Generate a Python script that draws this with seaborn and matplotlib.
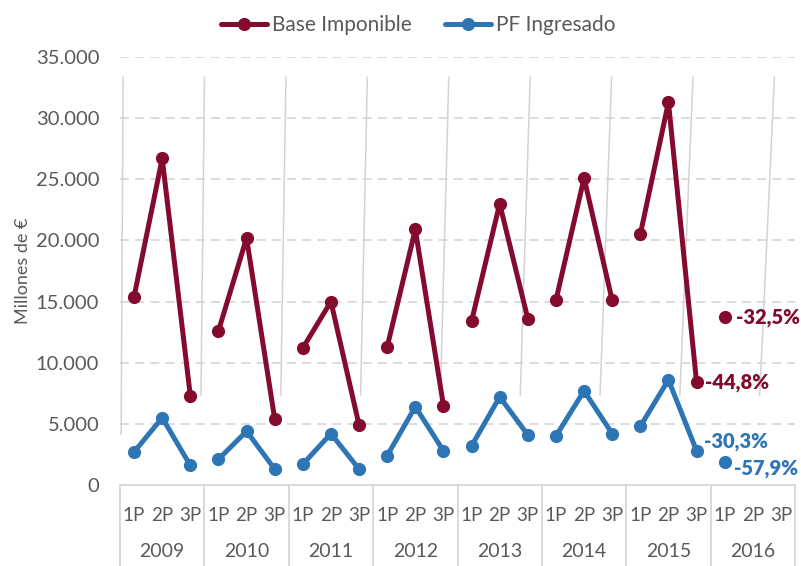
import numpy as np
import pandas as pd
import matplotlib
matplotlib.use("Agg")
import matplotlib.pyplot as plt
from matplotlib.lines import Line2D
from matplotlib.transforms import blended_transform_factory
import seaborn as sns

# --- data -------------------------------------------------------------
years = ["2009", "2010", "2011", "2012", "2013", "2014", "2015", "2016"]
periods = ["1P", "2P", "3P"]
series_names = ["Base Imponible", "PF Ingresado"]

base_imponible = [15400, 26700, 7300,
                  12600, 20200, 5400,
                  11200, 15000, 4900,
                  11300, 20900, 6500,
                  13400, 23000, 13600,
                  15100, 25100, 15100,
                  20500, 31300, 8400,
                  13700, np.nan, np.nan]
pf_ingresado = [2700, 5500, 1600,
                2100, 4400, 1300,
                1700, 4200, 1300,
                2400, 6400, 2800,
                3200, 7200, 4100,
                4000, 7700, 4200,
                4800, 8600, 2800,
                1900, np.nan, np.nan]

# variation labels: (series, year, period, text)
variations = [("Base Imponible", "2016", "1P", "-32,5%"),
              ("Base Imponible", "2015", "3P", "-44,8%"),
              ("PF Ingresado", "2015", "3P", "-30,3%"),
              ("PF Ingresado", "2016", "1P", "-57,9%")]

# --- long table ---------------------------------------------------------
rows = []
for i, (b, p) in enumerate(zip(base_imponible, pf_ingresado)):
    y, per = years[i // 3], periods[i % 3]
    rows.append((y, per, i, series_names[0], b))
    rows.append((y, per, i, series_names[1], p))
df = pd.DataFrame(rows, columns=["year", "period", "pos", "serie", "value"]).dropna()

colors = {"Base Imponible": "#840B2E", "PF Ingresado": "#2E75B6"}
grid_grey = "#D9D9D9"
text_grey = "#595959"

sns.set_theme(style="white")
plt.rcParams["font.family"] = ["Lato", "DejaVu Sans"]

fig = plt.figure(figsize=(8.01, 5.66), dpi=100)
ax = fig.add_axes([120 / 801, 81 / 566, 675 / 801, 428 / 566])

n = len(years) * len(periods)
ax.set_xlim(-0.5, n - 0.5)
ax.set_ylim(0, 35000)

# thin grey separators drawn behind the series
sep_k = np.arange(len(years) + 1)
sep_top = -0.39 + 0.965 * 3 * sep_k
sep_bot = -0.46 + 0.946 * 3 * sep_k
for k, (xt, xb) in enumerate(zip(sep_top, sep_bot)):
    yb = 4100 if k == 0 else 7300
    ax.plot([xt, xb], [33400, yb], color="#D3D3D3", lw=1.1, zorder=1,
            solid_capstyle="butt")

sns.lineplot(data=df, x="pos", y="value", hue="serie", units="year",
             estimator=None, palette=colors, marker="o", markersize=9.5,
             markeredgewidth=0, linewidth=3.6, legend=False, ax=ax, zorder=3)

# variation annotations
offsets = {"-32,5%": (8, 0), "-44,8%": (6, 0), "-30,3%": (5, 7), "-57,9%": (7, -5)}
for serie, yr, per, txt in variations:
    idx = years.index(yr) * 3 + periods.index(per)
    val = base_imponible[idx] if serie == "Base Imponible" else pf_ingresado[idx]
    ax.annotate(txt, (idx, val), xytext=offsets[txt], textcoords="offset points",
                ha="left", va="center", color=colors[serie], fontsize=14.5,
                fontweight="heavy", zorder=4)

# axes styling
for s in ax.spines.values():
    s.set_visible(False)
ax.yaxis.grid(True, color=grid_grey, linestyle=(0, (5, 3.4)), linewidth=1.3)
ax.set_axisbelow(True)
yt = np.arange(0, 35001, 5000)
ax.set_yticks(yt)
ax.set_yticklabels([f"{v:,.0f}".replace(",", ".") for v in yt])
ax.tick_params(axis="y", length=0, pad=15, labelsize=14.5, labelcolor=text_grey)
ax.set_ylabel("Millones de €", fontsize=13, color=text_grey, labelpad=3)

ax.set_xticks(range(n))
ax.set_xticklabels(periods * len(years))
ax.tick_params(axis="x", length=0, pad=16, labelsize=13.5, labelcolor=text_grey)
ax.set_xlabel("")

# category boxes under the axis
trans = blended_transform_factory(ax.transData, ax.transAxes)
ax.plot([-0.5, n - 0.5], [0, 0], transform=trans, color=grid_grey, lw=1.4,
        clip_on=False)
for k in range(len(years) + 1):
    xb = 3 * k - 0.5
    ax.plot([xb, xb], [0, -0.25], transform=trans, color=grid_grey, lw=1.4,
            clip_on=False)
for k, yr in enumerate(years):
    ax.text(3 * k + 1, -0.155, yr, transform=trans, ha="center", va="center",
            fontsize=14, color=text_grey)

# legend
handles = [Line2D([], [], color=colors[s], lw=3.6, marker="o", markersize=9.5,
                  markeredgewidth=0) for s in series_names]
fig.legend(handles, series_names, loc="center", bbox_to_anchor=(0.522, 0.955),
           ncol=2, frameon=False, fontsize=15, labelcolor=text_grey,
           handlelength=2.2, columnspacing=1.6, handletextpad=0.25)

fig.savefig("out.png", dpi=100)
